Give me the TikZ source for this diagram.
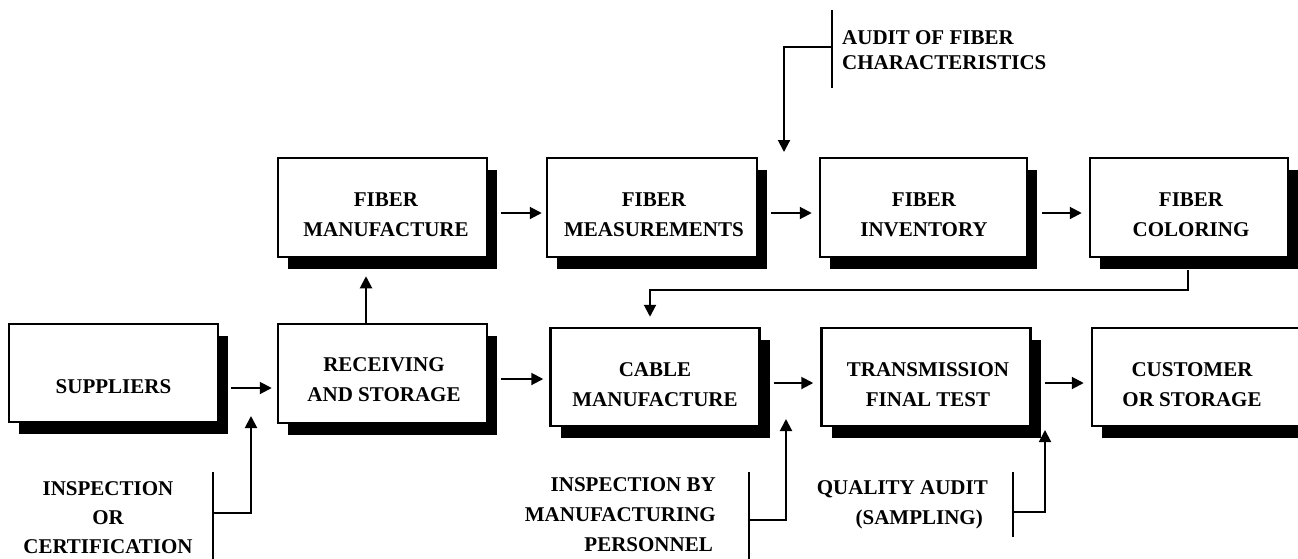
\documentclass[tikz,border=0pt]{standalone}
\usepackage{fontspec}
\setmainfont{Liberation Serif}
\usetikzlibrary{arrows.meta,calc,shadows}
\begin{document}
\begin{tikzpicture}[x=1pt,y=-1pt,
 box/.style={draw, line width=2.5pt, fill=white, inner sep=0pt, minimum width=209pt, minimum height=99pt,
   drop shadow={shadow xshift=10pt, shadow yshift=-12pt, fill=black, opacity=1}},
 lbl/.style={font=\fontsize{21}{30}\selectfont\bfseries, align=center, inner sep=0pt},
 arr/.style={line width=2pt, -{Triangle[length=12pt,width=12pt]}},
 bar/.style={line width=2.2pt}]
\useasboundingbox (0,0) rectangle (1298,558);

% boxes
\node[box] (fm) at (382.5,207.5) {};
\node[box, minimum width=210pt] (fmeas) at (652,207.5) {};
\node[box, minimum width=207pt] (fi) at (923.5,207.5) {};
\node[box, minimum width=198pt] (fc) at (1189,207.5) {};
\node[box, minimum height=98pt] (sup) at (113.5,373) {};
\node[box] (rec) at (382.5,373.5) {};
\node[box, minimum height=98pt] (cab) at (655,377) {};
\node[box, minimum height=98pt] (trn) at (926,377) {};
\node[box, minimum height=98pt] (cus) at (1196.5,377) {};

% box texts
\node[lbl] (fmt) at (386,215) {FIBER\\MANUFACTURE};
\node[lbl] (fmeast) at (654,215) {FIBER\\MEASUREMENTS};
\node[lbl] (fit) at (924,215) {FIBER\\INVENTORY};
\node[lbl] (fct) at (1191,215) {FIBER\\COLORING};
\node[lbl] (supt) at (113.5,387) {SUPPLIERS};
\node[lbl] (rect) at (384,380) {RECEIVING\\AND STORAGE};
\node[lbl] (cabt) at (655,385) {CABLE\\MANUFACTURE};
\node[lbl] (trnt) at (928,385) {TRANSMISSION\\FINAL TEST};
\node[lbl] (cust) at (1192,385) {CUSTOMER\\OR STORAGE};

% annotation texts
\node[lbl, font=\fontsize{21}{25}\selectfont\bfseries, align=left, anchor=west] (aud) at (842,50) {AUDIT OF FIBER\\CHARACTERISTICS};
\node[lbl, font=\fontsize{21}{29}\selectfont\bfseries] (ins) at (108,518) {INSPECTION\\OR\\CERTIFICATION};
\node[lbl, align=right, anchor=east] (insby) at (716,515) {INSPECTION BY\\MANUFACTURING\hspace*{7pt}\\PERSONNEL\hspace*{3pt}};
\node[lbl, align=right, anchor=east] (qa) at (988,505) {QUALITY AUDIT\\(SAMPLING)\hspace*{5pt}};

% main flow arrows
\draw[arr] ($(sup.east)+(12,15)$) -- ($(rec.west)+(-5,14.5)$);
\draw[arr] ($(rec.east)+(13,5.5)$) -- ($(cab.west)+(-6,2)$);
\draw[arr] ($(cab.east)+(13,6)$) -- ($(trn.west)+(-7,6)$);
\draw[arr] ($(trn.east)+(13,6)$) -- ($(cus.west)+(-7,6)$);
\draw[arr] ($(fm.east)+(13,5.5)$) -- ($(fmeas.west)+(-4,5.5)$);
\draw[arr] ($(fmeas.east)+(13,5.5)$) -- ($(fi.west)+(-7,5.5)$);
\draw[arr] ($(fi.east)+(14,5.5)$) -- ($(fc.west)+(-7,5.5)$);
\draw[arr] ($(rec.north)+(-16.5,0)$) -- ($(fm.south)+(-16.5,18)$);
\draw[arr] ($(fc.south)+(-1,12)$) |- ($(cab.north)+(-5,-37)$) -- ($(cab.north)+(-5,-10)$);

% annotation bars and connectors
\coordinate (audtop) at (832,10);
\coordinate (audbot) at (832,88);
\coordinate (audj) at (832,47);
\coordinate (audtip) at (784,152);
\draw[bar] (audtop) -- (audbot);
\draw[arr] (audj) -| (audtip);

\coordinate (instop) at (213,472);
\coordinate (insbot) at (213,562);
\coordinate (insj) at (213,513);
\coordinate (instip) at (251,416);
\draw[bar] (instop) -- (insbot);
\draw[arr] (insj) -| (instip);

\coordinate (insbytop) at (749,472);
\coordinate (insbybot) at (749,562);
\coordinate (insbyj) at (749,520);
\coordinate (insbytip) at (786,419);
\draw[bar] (insbytop) -- (insbybot);
\draw[arr] (insbyj) -| (insbytip);

\coordinate (qatop) at (1013,472);
\coordinate (qabot) at (1013,537);
\coordinate (qaj) at (1013,512);
\coordinate (qatip) at (1045,430);
\draw[bar] (qatop) -- (qabot);
\draw[arr] (qaj) -| (qatip);
\end{tikzpicture}
\end{document}
